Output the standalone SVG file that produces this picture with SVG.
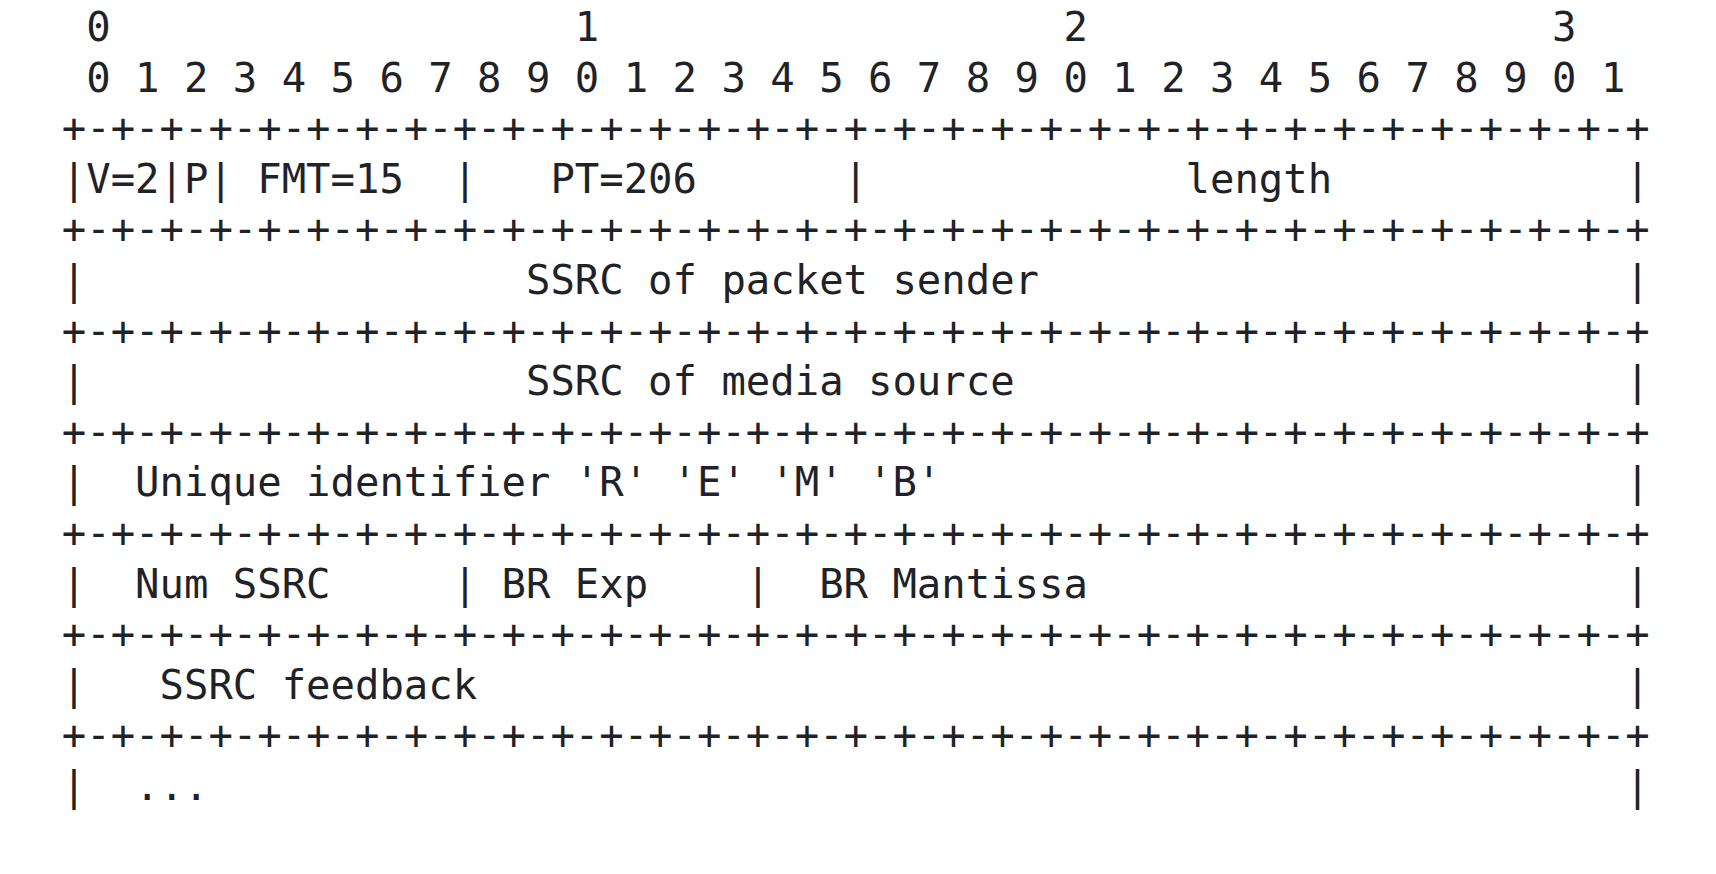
<svg xmlns="http://www.w3.org/2000/svg" width="1716" height="874" viewBox="0 0 1716 874">
<style>
.t{font-family:"DejaVu Sans Mono","Liberation Mono",monospace;font-size:40.6px;fill:#1f2328;white-space:pre}
</style>
<rect width="1716" height="874" fill="#ffffff"/>
<g id="header">
<text class="t" x="61.8" y="41" xml:space="preserve"> 0                   1                   2                   3</text>
<text class="t" x="61.8" y="91.6" xml:space="preserve"> 0 1 2 3 4 5 6 7 8 9 0 1 2 3 4 5 6 7 8 9 0 1 2 3 4 5 6 7 8 9 0 1</text>
</g>
<g id="packet">
<text class="t" x="61.8" y="142.2" xml:space="preserve">+-+-+-+-+-+-+-+-+-+-+-+-+-+-+-+-+-+-+-+-+-+-+-+-+-+-+-+-+-+-+-+-+</text>
<text class="t" x="61.8" y="192.8" xml:space="preserve">|V=2|P| FMT=15  |   PT=206      |             length            |</text>
<text class="t" x="61.8" y="243.4" xml:space="preserve">+-+-+-+-+-+-+-+-+-+-+-+-+-+-+-+-+-+-+-+-+-+-+-+-+-+-+-+-+-+-+-+-+</text>
<text class="t" x="61.8" y="294" xml:space="preserve">|                  SSRC of packet sender                        |</text>
<text class="t" x="61.8" y="344.6" xml:space="preserve">+-+-+-+-+-+-+-+-+-+-+-+-+-+-+-+-+-+-+-+-+-+-+-+-+-+-+-+-+-+-+-+-+</text>
<text class="t" x="61.8" y="395.2" xml:space="preserve">|                  SSRC of media source                         |</text>
<text class="t" x="61.8" y="445.8" xml:space="preserve">+-+-+-+-+-+-+-+-+-+-+-+-+-+-+-+-+-+-+-+-+-+-+-+-+-+-+-+-+-+-+-+-+</text>
<text class="t" x="61.8" y="496.4" xml:space="preserve">|  Unique identifier 'R' 'E' 'M' 'B'                            |</text>
<text class="t" x="61.8" y="547" xml:space="preserve">+-+-+-+-+-+-+-+-+-+-+-+-+-+-+-+-+-+-+-+-+-+-+-+-+-+-+-+-+-+-+-+-+</text>
<text class="t" x="61.8" y="597.6" xml:space="preserve">|  Num SSRC     | BR Exp    |  BR Mantissa                      |</text>
<text class="t" x="61.8" y="648.2" xml:space="preserve">+-+-+-+-+-+-+-+-+-+-+-+-+-+-+-+-+-+-+-+-+-+-+-+-+-+-+-+-+-+-+-+-+</text>
<text class="t" x="61.8" y="698.8" xml:space="preserve">|   SSRC feedback                                               |</text>
<text class="t" x="61.8" y="749.4" xml:space="preserve">+-+-+-+-+-+-+-+-+-+-+-+-+-+-+-+-+-+-+-+-+-+-+-+-+-+-+-+-+-+-+-+-+</text>
<text class="t" x="61.8" y="800" xml:space="preserve">|  ...                                                          |</text>
</g>
</svg>
